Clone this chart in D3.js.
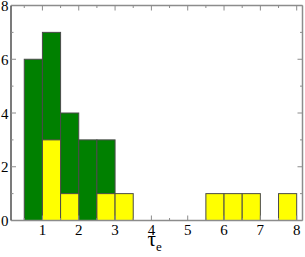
<!DOCTYPE html>
<html><head><meta charset="utf-8">
<script src="https://cdn.jsdelivr.net/npm/d3@7"></script>
<style>body{margin:0;background:#fff}svg{display:block}</style>
</head><body>
<script>
const binWidth = 0.5;
const greenStarts = [0.5, 1.0, 1.5, 2.0, 2.5];
const greenCounts = [6, 7, 4, 3, 3];
const yellowStarts = [1.0, 1.5, 2.5, 3.0, 5.5, 6.0, 6.5, 7.5];
const yellowCounts = [3, 1, 1, 1, 1, 1, 1, 1];
const xMajor = [1, 2, 3, 4, 5, 6, 7, 8];
const xMinor = [0.5, 1.5, 2.5, 3.5, 4.5, 5.5, 6.5, 7.5];
const yMajor = [0, 2, 4, 6, 8];
const yMinor = [1, 3, 5, 7];

const W = 305, H = 257;
const svg = d3.select("body").append("svg").attr("width", W).attr("height", H);
const x = d3.scaleLinear().domain([0.135, 8.16]).range([11, 302.5]);
const y = d3.scaleLinear().domain([0, 8]).range([220.5, 5.5]);

const green = greenStarts.map((s, i) => ({x0: s, v: greenCounts[i]}));
const yellow = yellowStarts.map((s, i) => ({x0: s, v: yellowCounts[i]}));

function bars(data, fill) {
  svg.append("g").selectAll("rect").data(data).join("rect")
    .attr("x", d => x(d.x0))
    .attr("y", d => y(d.v))
    .attr("width", d => x(d.x0 + binWidth) - x(d.x0))
    .attr("height", d => y(0) - y(d.v))
    .attr("fill", fill)
    .attr("stroke", "#4a4a4a")
    .attr("stroke-width", 1);
}
bars(green, "#008000");
bars(yellow, "#ffff00");

const x0 = x.range()[0], x1 = x.range()[1], yb = y.range()[0], yt = y.range()[1];
const frame = svg.append("g");
const fcol = "#8c8c8c";
const tg = svg.append("g").attr("stroke", fcol).attr("stroke-width", 1);
xMajor.forEach(v => {
  tg.append("line").attr("x1", x(v)).attr("x2", x(v)).attr("y1", yb).attr("y2", yb - 5);
  tg.append("line").attr("x1", x(v)).attr("x2", x(v)).attr("y1", yt).attr("y2", yt + 5);
});
xMinor.forEach(v => {
  tg.append("line").attr("x1", x(v)).attr("x2", x(v)).attr("y1", yb).attr("y2", yb - 2.5);
  tg.append("line").attr("x1", x(v)).attr("x2", x(v)).attr("y1", yt).attr("y2", yt + 2.5);
});
yMajor.forEach(v => {
  tg.append("line").attr("x1", x0).attr("x2", x0 + 5).attr("y1", y(v)).attr("y2", y(v));
  tg.append("line").attr("x1", x1).attr("x2", x1 - 5).attr("y1", y(v)).attr("y2", y(v));
});
yMinor.forEach(v => {
  tg.append("line").attr("x1", x0).attr("x2", x0 + 2.5).attr("y1", y(v)).attr("y2", y(v));
  tg.append("line").attr("x1", x1).attr("x2", x1 - 2.5).attr("y1", y(v)).attr("y2", y(v));
});
frame.append("line").attr("x1", x0).attr("x2", x1).attr("y1", yt).attr("y2", yt).attr("stroke", fcol).attr("stroke-width", 1.5);
frame.append("line").attr("x1", x1).attr("x2", x1).attr("y1", yt).attr("y2", yb).attr("stroke", fcol).attr("stroke-width", 1.5);
frame.append("line").attr("x1", x0).attr("x2", x1).attr("y1", yb).attr("y2", yb).attr("stroke", fcol).attr("stroke-width", 1.5);
frame.append("line").attr("x1", x0).attr("x2", x0).attr("y1", yt).attr("y2", yb).attr("stroke", "#222").attr("stroke-width", 1.2);

const font = '"Liberation Serif"';
svg.append("g").selectAll("text").data(xMajor).join("text")
  .attr("x", d => x(d)).attr("y", 235)
  .attr("text-anchor", "middle")
  .style("font-family", font).style("font-size", "15px")
  .text(d => d);
svg.append("g").selectAll("text").data(yMajor).join("text")
  .attr("x", 8.5).attr("y", d => y(d) + 5.5)
  .attr("text-anchor", "end")
  .style("font-family", font).style("font-size", "15px")
  .text(d => d);

const lab = svg.append("text").attr("x", 147.5).attr("y", 246)
  .style("font-family", font).style("font-size", "21px");
lab.append("tspan").text("τ");
lab.append("tspan").attr("dy", 5).style("font-family", font).style("font-size", "13px").text("e");
</script>
</body></html>
